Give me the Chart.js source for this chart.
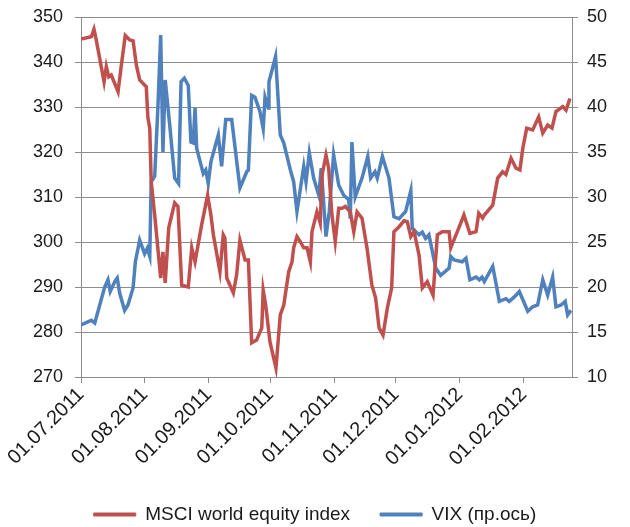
<!DOCTYPE html>
<html>
<head>
<meta charset="utf-8">
<script src="https://cdn.jsdelivr.net/npm/chart.js@4/dist/chart.umd.min.js"></script>
<style>
  html, body { margin: 0; padding: 0; background: #ffffff; }
  #wrap { width: 630px; height: 527px; }
</style>
</head>
<body>
<div id="wrap"><canvas id="chart"></canvas></div>
<script>
// Ось X: дни от 01.07.2011, подписи — первое число месяца
const monthTickDays = [0, 31, 62, 92, 123, 153, 184, 215];
const monthTickLabels = ["01.07.2011", "01.08.2011", "01.09.2011", "01.10.2011",
  "01.11.2011", "01.12.2011", "01.01.2012", "01.02.2012"];

// MSCI world equity index (левая ось)
const msciDays = [0, 5, 6.3, 7.4, 11.2, 12.3, 13.5, 14.7, 18, 19.6, 21.5, 23.7, 25.3, 26.9, 28.5,
  31.7, 32.5, 33.4, 34.1, 35.8, 38.7, 39.8, 40.9, 42.6, 45.5, 47.1, 48.9, 52.1, 53.8, 55.4, 58.6,
  61.5, 63.1, 64.3, 67.5, 69.1, 69.9, 70.8, 74, 75.6, 77.2, 79.7, 81.3, 82.9, 85.3, 87.8, 88.5,
  89.7, 91.8, 94.7, 96.8, 98.5, 100.9, 102.5, 103.3, 104.9, 106.5, 108.2, 109.8, 111.4, 112.2,
  114.6, 116.2, 117.1, 119, 120.3, 121.9, 123.5, 125.2, 126.8, 128.4, 130.8, 132.5, 134.1, 136.5,
  138.9, 141.3, 143.1, 144.8, 146.7, 148.8, 150.9, 152, 154.5, 156.9, 158.5, 160.2, 161.8, 164.2,
  165.8, 168.2, 171, 173.1, 175.5, 178.8, 179.6, 182.8, 186, 188.9, 191.9, 193.2, 195.1, 195.9,
  200, 202.4, 204.8, 206.4, 208.9, 211.3, 213.2, 214.6, 216.5, 219.4, 222.3, 224.3, 226.7, 228.8,
  230.7, 234, 235.6, 237.5];
const msciValues = [345.1, 345.6, 347.3, 344.9, 335.6, 339, 336.7, 337.1, 333.4, 339.3, 345.9,
  344.9, 344.7, 339.3, 336, 334.5, 327.6, 325.3, 313.4, 306, 292, 297.8, 290.9, 303.1, 308.7, 307.9,
  290.4, 290, 298.7, 295.6, 303.8, 310.4, 306, 301.6, 293.4, 301.6, 300.9, 292, 288.7, 292.7, 300.4,
  296, 296, 277.6, 278.2, 280.9, 289.3, 286, 277.8, 272, 283.8, 286, 293.4, 295.6, 298.7, 301.2,
  300.1, 298.7, 298.7, 295.6, 302.3, 306.7, 304.2, 314.9, 319.3, 316.4, 306, 300.1, 307.5, 307.5,
  307.9, 306.7, 302.3, 306.7, 305.3, 298.7, 290.4, 287.6, 280.9, 279.3, 285.3, 289.8, 302.3, 303.4,
  304.7, 304.5, 301.2, 302.3, 297.1, 289.8, 291.2, 288.2, 301.6, 302.3, 302.3, 298.7, 302.3, 306,
  301.9, 302.3, 306.4, 305.3, 306, 308.2, 314.2, 315.6, 315, 318.6, 316.4, 316, 320.8, 325.3, 324.9,
  327.8, 324.2, 326, 325.3, 329, 330.1, 329.3, 331.9];

// VIX (правая ось)
const vixDays = [0, 5, 6.7, 9.1, 11.5, 13.1, 14.2, 16.4, 17.6, 18.8, 21.2, 22.8, 25.3, 26.4, 28.5,
  30.9, 32.2, 33.4, 34.1, 35.8, 37.4, 38.7, 39.8, 40.9, 43.1, 45.5, 47.4, 48.6, 50.2, 52.1, 53.4,
  54.5, 55.4, 56.2, 59.4, 60.6, 61.8, 63.1, 66.7, 68.3, 70.3, 73.2, 77.2, 80.5, 81.3, 82.9, 84.5,
  86.9, 88.5, 89.4, 91, 91.3, 94.5, 96.8, 98.5, 101.7, 103.3, 104.9, 108.2, 109.3, 110.9, 113,
  115.5, 116.7, 119, 120.6, 122.7, 125.2, 127.6, 130, 130.8, 131.6, 133.2, 136.5, 139.3, 140.7,
  142.8, 143.9, 146.4, 149.6, 152, 154.5, 157.7, 160.2, 160.9, 164.2, 165.8, 167.4, 169, 172.3,
  174.7, 178.8, 179.6, 181.2, 185.2, 187, 188.9, 191.9, 193.5, 194.8, 195.9, 200, 203.2, 206.4,
  208, 210.5, 212.9, 217, 219.4, 221.8, 224.3, 226.7, 229.1, 230.7, 233.2, 235.2, 236.4, 238];
const vixValues = [15.8, 16.3, 16, 18, 20, 20.8, 19.5, 20.6, 21, 19.3, 17.4, 18, 19.9, 22.8, 25.2,
  23.7, 24.3, 23.4, 31.7, 32.3, 40.2, 48, 35, 43, 38, 32.1, 31.5, 42.8, 43.2, 42.4, 36.1, 36, 39.9,
  35.4, 32.6, 33, 31.5, 33.9, 36.9, 33.4, 38.6, 38.6, 31, 32.8, 33, 41.3, 41.1, 39.5, 37.6, 41.1,
  39.9, 42.8, 45.6, 36.9, 36, 33, 31.7, 28.4, 33.4, 31.7, 34.9, 32.1, 30.2, 33.2, 25.6, 28.4, 34.7,
  31.3, 30.2, 29.7, 27.6, 36.1, 30, 32.1, 34.5, 32.1, 32.8, 32.1, 34.5, 32.1, 27.8, 27.6, 28.4, 30.7,
  26.5, 25.8, 26.1, 25.4, 25.8, 22.1, 21.3, 22.1, 23.4, 23, 22.8, 23.2, 20.8, 21.1, 20.8, 21.1, 20.6,
  22.3, 18.4, 18.7, 18.4, 18.9, 19.5, 17.3, 17.8, 18, 20.8, 19.1, 21.1, 17.8, 18, 18.4, 16.9, 17.4];

const RED = "#C0504D";
const BLUE = "#4F81BD";
const GRID = "#8c8c8c";
const TEXT = "#1a1a1a";
const FAMILY = "'Liberation Sans', Arial, sans-serif";

function toPoints(days, values) {
  return days.map((d, i) => ({ x: d, y: values[i] }));
}

// легенда стоит ниже, чем её ставит раскладка Chart.js
const legendShift = {
  id: "legendShift",
  afterLayout(chart) {
    const lg = chart.legend;
    if (!lg) return;
    const top = 527 - 12 - 10 - lg.options.labels.padding;
    const h = lg.bottom - lg.top;
    lg.top = top;
    lg.bottom = top + h;
  },
};

// вертикальные оси: без лишнего отступа сверху/снизу
function fitY(width) {
  return (scale) => {
    scale.width = width;
    scale.paddingTop = 0;
    scale.paddingBottom = 0;
  };
}

new Chart(document.getElementById("chart"), {
  type: "line",
  data: {
    datasets: [
      {
        label: "MSCI world equity index",
        data: toPoints(msciDays, msciValues),
        borderColor: RED,
        backgroundColor: RED,
        borderWidth: 3.5,
        pointRadius: 0,
        tension: 0,
        yAxisID: "y",
      },
      {
        label: "VIX (пр.ось)",
        data: toPoints(vixDays, vixValues),
        borderColor: BLUE,
        backgroundColor: BLUE,
        borderWidth: 3.5,
        pointRadius: 0,
        tension: 0,
        yAxisID: "y2",
      },
    ],
  },
  options: {
    responsive: true,
    maintainAspectRatio: false,
    animation: false,
    layout: { padding: { top: 17, left: 0, right: 0, bottom: 0 } },
    plugins: {
      tooltip: { enabled: false },
      legend: {
        position: "bottom",
        labels: {
          color: TEXT,
          font: { family: FAMILY, size: 19 },
          boxWidth: 42,
          boxHeight: 3,
          padding: 30,
          generateLabels: (chart) =>
            Chart.defaults.plugins.legend.labels.generateLabels(chart).map((l) => ({
              ...l,
              fillStyle: l.strokeStyle,
              lineWidth: 1,
            })),
        },
      },
    },
    scales: {
      x: {
        type: "linear",
        min: 0,
        max: 238.5,
        afterBuildTicks: (scale) => {
          scale.ticks = monthTickDays.map((v) => ({ value: v }));
        },
        afterFit: (scale) => { scale.height = 91; },
        ticks: {
          color: TEXT,
          font: { family: FAMILY, size: 20 },
          minRotation: 45,
          maxRotation: 45,
          autoSkip: false,
          padding: 0,
          callback: (value) => {
            const i = monthTickDays.indexOf(value);
            return i >= 0 ? monthTickLabels[i] : "";
          },
        },
        grid: { drawOnChartArea: false, drawTicks: true, tickLength: 6, color: GRID },
        border: { display: true, color: GRID },
      },
      y: {
        position: "left",
        min: 270,
        max: 350,
        afterFit: fitY(81),
        ticks: { stepSize: 10, color: TEXT, font: { family: FAMILY, size: 18 }, padding: 12 },
        grid: { color: GRID, tickLength: 6 },
        border: { display: true, color: GRID },
      },
      y2: {
        position: "right",
        min: 10,
        max: 50,
        afterFit: fitY(58),
        ticks: { stepSize: 5, color: TEXT, font: { family: FAMILY, size: 18 }, padding: 9 },
        grid: { drawOnChartArea: false, color: GRID, tickLength: 6 },
        border: { display: true, color: GRID },
      },
    },
  },
  plugins: [legendShift],
});
</script>
</body>
</html>
